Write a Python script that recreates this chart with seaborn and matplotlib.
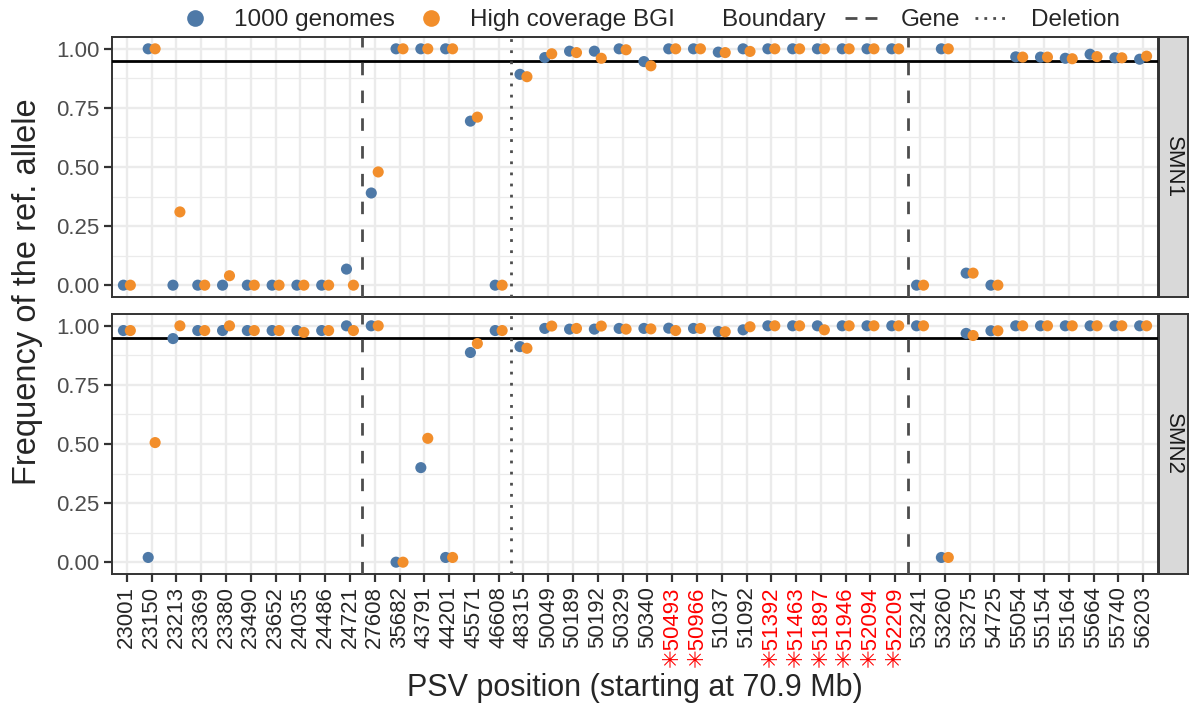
import numpy as np
import pandas as pd
import matplotlib
matplotlib.use("Agg")
import matplotlib.pyplot as plt
import seaborn as sns
from matplotlib.lines import Line2D

# ---------------- data ----------------
positions = ["23001", "23150", "23213", "23369", "23380", "23490", "23652", "24035", "24486", "24721",
             "27608", "35682", "43791", "44201", "45571", "46608", "48315", "50049", "50189", "50192",
             "50329", "50340", "50493", "50966", "51037", "51092", "51392", "51463", "51897", "51946",
             "52094", "52209", "53241", "53260", "53275", "54725", "55054", "55154", "55164", "55664",
             "55740", "56203"]
starred = ["50493", "50966", "51392", "51463", "51897", "51946", "52094", "52209"]

smn1_1000g = [0, 1.0, 0, 0, 0, 0, 0, 0, 0, 0.068,
              0.39, 1.0, 1.0, 1.0, 0.694, 0, 0.892, 0.963, 0.99, 0.99,
              1.0, 0.946, 1.0, 1.0, 0.986, 1.0, 1.0, 1.0, 1.0, 1.0,
              1.0, 1.0, 0, 1.0, 0.051, 0, 0.966, 0.965, 0.96, 0.977,
              0.962, 0.956]
smn1_bgi = [0, 1.0, 0.31, 0, 0.04, 0, 0, 0, 0, 0,
            0.479, 1.0, 1.0, 1.0, 0.711, 0, 0.882, 0.979, 0.984, 0.96,
            0.996, 0.928, 1.0, 1.0, 0.984, 0.989, 1.0, 1.0, 1.0, 1.0,
            1.0, 1.0, 0, 1.0, 0.051, 0, 0.965, 0.965, 0.958, 0.967,
            0.962, 0.969]
smn2_1000g = [0.98, 0.02, 0.946, 0.98, 0.98, 0.98, 0.98, 0.98, 0.98, 1.0,
              1.0, 0, 0.40, 0.02, 0.887, 0.98, 0.912, 0.989, 0.986, 0.986,
              0.989, 0.989, 0.99, 0.989, 0.976, 0.983, 1.0, 1.0, 1.0, 1.0,
              1.0, 1.0, 1.0, 0.02, 0.968, 0.979, 1.0, 1.0, 1.0, 1.0,
              1.0, 1.0]
smn2_bgi = [0.98, 0.506, 1.0, 0.98, 1.0, 0.98, 0.98, 0.972, 0.98, 0.98,
            1.0, 0, 0.524, 0.02, 0.925, 0.98, 0.905, 0.999, 0.989, 0.999,
            0.986, 0.987, 0.98, 0.989, 0.975, 0.996, 1.0, 1.0, 0.983, 1.0,
            1.0, 1.0, 1.0, 0.02, 0.959, 0.979, 1.0, 1.0, 1.0, 1.0,
            1.0, 1.0]

sources = ["1000 genomes", "High coverage BGI"]
genes = ["SMN1", "SMN2"]
threshold = 0.95
gene_bounds = ["24721", "52209"]     # boundary after these PSVs
deletion_bounds = ["46608"]

# ---------------- style ----------------
sns.set_theme(style="white")
plt.rcParams['font.family'] = ['Liberation Sans', 'DejaVu Sans']

colors = {"1000 genomes": "#4E79A7", "High coverage BGI": "#F28E2B"}
dodge = {"1000 genomes": -0.14, "High coverage BGI": 0.14}
grey20 = "#333333"
grid_c = "#EBEBEB"
dash_ls = (0, (4.5, 5.5))
dot_ls = (0, (1, 3))

rows = []
vals = {("SMN1", "1000 genomes"): smn1_1000g, ("SMN1", "High coverage BGI"): smn1_bgi,
        ("SMN2", "1000 genomes"): smn2_1000g, ("SMN2", "High coverage BGI"): smn2_bgi}
for (g, s), v in vals.items():
    for i, (p, f) in enumerate(zip(positions, v)):
        rows.append(dict(gene=g, source=s, pos=p, idx=i, freq=f))
df = pd.DataFrame(rows)
df["x"] = df["idx"] + df["source"].map(dodge)

W, H = 1189, 706
fig = plt.figure(figsize=(W / 100, H / 100), dpi=100)

panel_l, panel_r = 112, 1158
panels = [(37, 297), (314, 574)]
n = len(positions)

for k, (gene, (top, bot)) in enumerate(zip(genes, panels)):
    ax = fig.add_axes([panel_l / W, 1 - bot / H, (panel_r - panel_l) / W, (bot - top) / H])
    sub = df[df.gene == gene]
    sns.scatterplot(data=sub, x="x", y="freq", hue="source", hue_order=sources,
                    palette=colors, s=64, linewidth=0, alpha=1, ax=ax, legend=False, zorder=4)
    ax.set_xlim(-0.6, n - 1 + 0.6)
    ax.set_ylim(-0.05, 1.05)
    ax.set_xticks(range(n))
    ax.set_yticks([0, 0.25, 0.5, 0.75, 1.0])
    ax.set_yticks([0.125, 0.375, 0.625, 0.875], minor=True)
    ax.set_yticklabels(["0.00", "0.25", "0.50", "0.75", "1.00"], fontsize=16, color="#4D4D4D")
    ax.grid(True, which="major", color=grid_c, lw=1.7, zorder=0)
    ax.grid(True, which="minor", axis="y", color=grid_c, lw=0.9, zorder=0)
    ax.set_axisbelow(True)
    ax.axhline(threshold, color="black", lw=2.0, zorder=3)
    for b in gene_bounds:
        ax.axvline(positions.index(b) + 0.5, color="#4D4D4D", lw=2.0, ls=dash_ls, zorder=3)
    for b in deletion_bounds:
        ax.axvline(positions.index(b) + 0.5, color="#4D4D4D", lw=2.0, ls=dot_ls, zorder=3)
    for sp in ax.spines.values():
        sp.set_color(grey20)
        sp.set_linewidth(1.4)
    ax.set_xlabel("")
    ax.set_ylabel("")
    ax.tick_params(axis="y", which="major", length=6, width=1.6, color=grey20, pad=3, left=True)
    ax.tick_params(axis="y", which="minor", length=0)
    if k == 0:
        ax.tick_params(axis="x", length=0, labelbottom=False)
    else:
        ax.tick_params(axis="x", length=6, width=1.6, color=grey20, pad=3, bottom=True)
        labels = [("\u2733" + p) if p in starred else p for p in positions]
        ax.set_xticklabels(labels, rotation=90, fontsize=16)
        for t, p in zip(ax.get_xticklabels(), positions):
            t.set_color("#FF0000" if p in starred else "#262626")
    # strip
    sax = fig.add_axes([(panel_r + 1) / W, 1 - bot / H, 29 / W, (bot - top) / H])
    sax.set_facecolor("#D9D9D9")
    sax.set_xticks([]); sax.set_yticks([])
    for sp in sax.spines.values():
        sp.set_color(grey20)
        sp.set_linewidth(1.4)
    sax.text(0.5, 0.5, gene, rotation=-90, ha="center", va="center", fontsize=16,
             color="#1A1A1A", transform=sax.transAxes)

# axis titles
fig.text(28 / W, 1 - 292 / H, "Frequency of the ref. allele", rotation=90, ha="center",
         va="center", fontsize=23.5)
fig.text((panel_l + panel_r) / 2 / W, 1 - 688 / H, "PSV position (starting at 70.9 Mb)",
         ha="center", va="center", fontsize=22)

# legend
pt_handles = [Line2D([], [], marker="o", ls="", ms=12, color=colors[s], mec="none") for s in sources]
fig.legend(pt_handles, sources, loc="center left", bbox_to_anchor=(183 / W, 1 - 20 / H),
           ncol=2, frameon=False, fontsize=17.5, handlelength=1.0, handletextpad=1.1,
           columnspacing=1.0, borderaxespad=0, borderpad=0)
fig.text(722 / W, 1 - 20 / H, "Boundary", ha="left", va="center", fontsize=17.5)
ln_handles = [Line2D([], [], color="#4D4D4D", lw=2.0, ls=(0, (4.3, 2.9))),
              Line2D([], [], color="#4D4D4D", lw=2.0, ls=(0, (1, 2.2)))]
fig.legend(ln_handles, ["Gene", "Deletion"], loc="center left",
           bbox_to_anchor=(845 / W, 1 - 20 / H), ncol=2, frameon=False, fontsize=17.5,
           handlelength=1.35, handletextpad=0.95, columnspacing=0.6, borderaxespad=0,
           borderpad=0)

fig.savefig("out.png", dpi=100)
